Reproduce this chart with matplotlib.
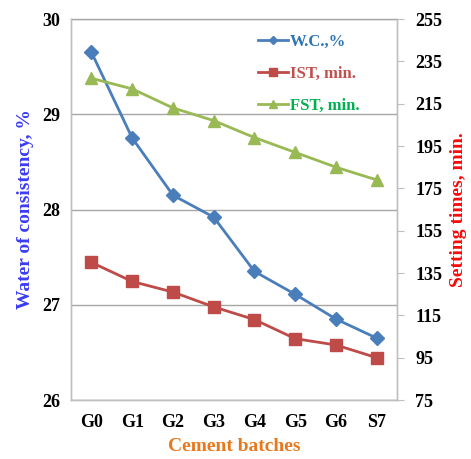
import matplotlib.pyplot as plt

plt.rcParams['font.family'] = 'Liberation Serif'
plt.rcParams['font.weight'] = 'bold'

batches = ['G0', 'G1', 'G2', 'G3', 'G4', 'G5', 'G6', 'S7']
wc = [29.65, 28.75, 28.15, 27.92, 27.35, 27.11, 26.85, 26.65]
ist = [140, 131, 126, 119, 113, 104, 101, 95]
fst = [227, 222, 213, 207, 199, 192, 185, 179]

fig = plt.figure(figsize=(4.71, 4.59), dpi=100)
ax = fig.add_axes([0.151, 0.1285, 0.692, 0.83])
ax2 = ax.twinx()

x = range(len(batches))
l1, = ax.plot(x, wc, color='#4a7ebb', lw=2, marker='D', ms=7, label='W.C.,%')
l2, = ax2.plot(x, ist, color='#be4b48', lw=2, marker='s', ms=9, label='IST, min.')
l3, = ax2.plot(x, fst, color='#98b954', lw=2, marker='^', ms=9, label='FST, min.')

ax.set_xlim(-0.5, len(batches) - 0.5)
ax.set_ylim(26, 30)
ax.set_yticks([26, 27, 28, 29, 30])
ax2.set_ylim(75, 255)
ax2.set_yticks(range(75, 256, 20))
ax.set_xticks(list(x))
ax.set_xticklabels(batches)

ax.grid(axis='y', color='#a6a6a6', lw=1)
ax.set_axisbelow(True)
for a in (ax, ax2):
    for s in a.spines.values():
        s.set_color('#bfbfbf')
        s.set_linewidth(1)
ax.spines['top'].set_color('#a6a6a6')
ax2.spines['top'].set_visible(False)

ax.tick_params(axis='both', length=0, labelsize=13, pad=8)
ax.tick_params(axis='x', pad=10)
ax2.tick_params(axis='y', length=5, color='#bfbfbf', labelsize=13, pad=8)

ax.set_ylabel('Water of consistency, %', color='#3b3bf5', fontsize=14,
              fontweight='bold', labelpad=6)
ax2.set_ylabel('Setting times, min.', color='#f50c0c', fontsize=14,
               fontweight='bold', labelpad=6)
ax.set_xlabel('Cement batches', color='#e8781e', fontsize=14,
              fontweight='bold', labelpad=5)

# legend sits inside the top-right corner, no frame, coloured labels
leg = ax.legend(handles=[l1, l2, l3], loc='upper right', frameon=False,
                fontsize=12, handlelength=1.8, handletextpad=0.1,
                labelspacing=0.95, markerscale=0.6,
                bbox_to_anchor=(0.93, 1.0))
for txt, c in zip(leg.get_texts(), ['#2e75b6', '#c0504d', '#00b050']):
    txt.set_color(c)

fig.savefig('out.png', dpi=100)
